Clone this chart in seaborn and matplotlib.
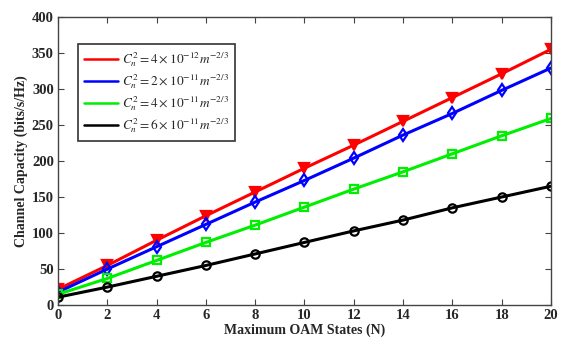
import matplotlib
matplotlib.use("Agg")
import matplotlib.pyplot as plt
from matplotlib.lines import Line2D
import seaborn as sns
import pandas as pd

oam_states = [0, 2, 4, 6, 8, 10, 12, 14, 16, 18, 20]

cap_red = [22, 55, 90, 124, 157, 190, 222, 255, 288, 321, 355]
cap_blue = [18, 50, 81, 112, 143, 173, 204, 236, 266, 298, 329]
cap_green = [15, 37, 62, 87, 111, 136, 161, 185, 210, 235, 259]
cap_black = [11, 25, 40, 55, 71, 87, 103, 118, 135, 150, 165]

labels = [
    r"$C_n^2 = 4\times10^{-12}m^{-2/3}$",
    r"$C_n^2 = 2\times10^{-11}m^{-2/3}$",
    r"$C_n^2 = 4\times10^{-11}m^{-2/3}$",
    r"$C_n^2 = 6\times10^{-11}m^{-2/3}$",
]
series = [cap_red, cap_blue, cap_green, cap_black]
colors = ["#ff0000", "#0000ff", "#00ee00", "#000000"]
markers = ["v", "d", "s", "o"]

rows = []
for lab, vals in zip(labels, series):
    for n, v in zip(oam_states, vals):
        rows.append({"N": n, "cap": v, "case": lab})
df = pd.DataFrame(rows)

sns.set_style("ticks")
plt.rcParams["font.family"] = ["Liberation Serif", "DejaVu Serif"]
plt.rcParams["mathtext.fontset"] = "stix"

fig = plt.figure(figsize=(5.68, 3.44), dpi=100)
ax = fig.add_axes([0.102, 0.113, 0.868, 0.838])

for lab, col, mk in zip(labels, colors, markers):
    sub = df[df["case"] == lab]
    filled = mk == "v"
    sns.lineplot(data=sub, x="N", y="cap", ax=ax, color=col, linewidth=2.2,
                 marker=mk, markersize=7 if mk == "v" else 6,
                 markerfacecolor=col if filled else "none",
                 markeredgecolor=col, markeredgewidth=1.6, legend=False)

ax.set_xlim(0, 20)
ax.set_ylim(0, 400)
ax.set_xticks(range(0, 21, 2))
ax.set_yticks(range(0, 401, 50))
ax.tick_params(direction="in", top=True, right=True, length=4, width=0.8,
               labelsize=10.5, pad=3, color="#444444")
for t in ax.get_xticklabels() + ax.get_yticklabels():
    t.set_fontweight("bold")
for s in ax.spines.values():
    s.set_color("#444444")
    s.set_linewidth(1.0)

ax.set_xlabel("Maximum OAM States (N)", fontsize=10, fontweight="bold", labelpad=1)
ax.set_ylabel("Channel Capacity (bits/s/Hz)", fontsize=10, fontweight="bold", labelpad=3)

handles = [Line2D([0], [0], color=c, linewidth=1.8) for c in colors]
leg = ax.legend(handles, labels, loc="upper left", bbox_to_anchor=(0.04, 0.905),
                frameon=True, fancybox=False, edgecolor="black", fontsize=9.5,
                handlelength=2.6, borderpad=0.45, labelspacing=0.25, handletextpad=0.3,
                borderaxespad=0.0)
leg.get_frame().set_linewidth(1.2)

fig.savefig("out.png", dpi=100, facecolor="white")
